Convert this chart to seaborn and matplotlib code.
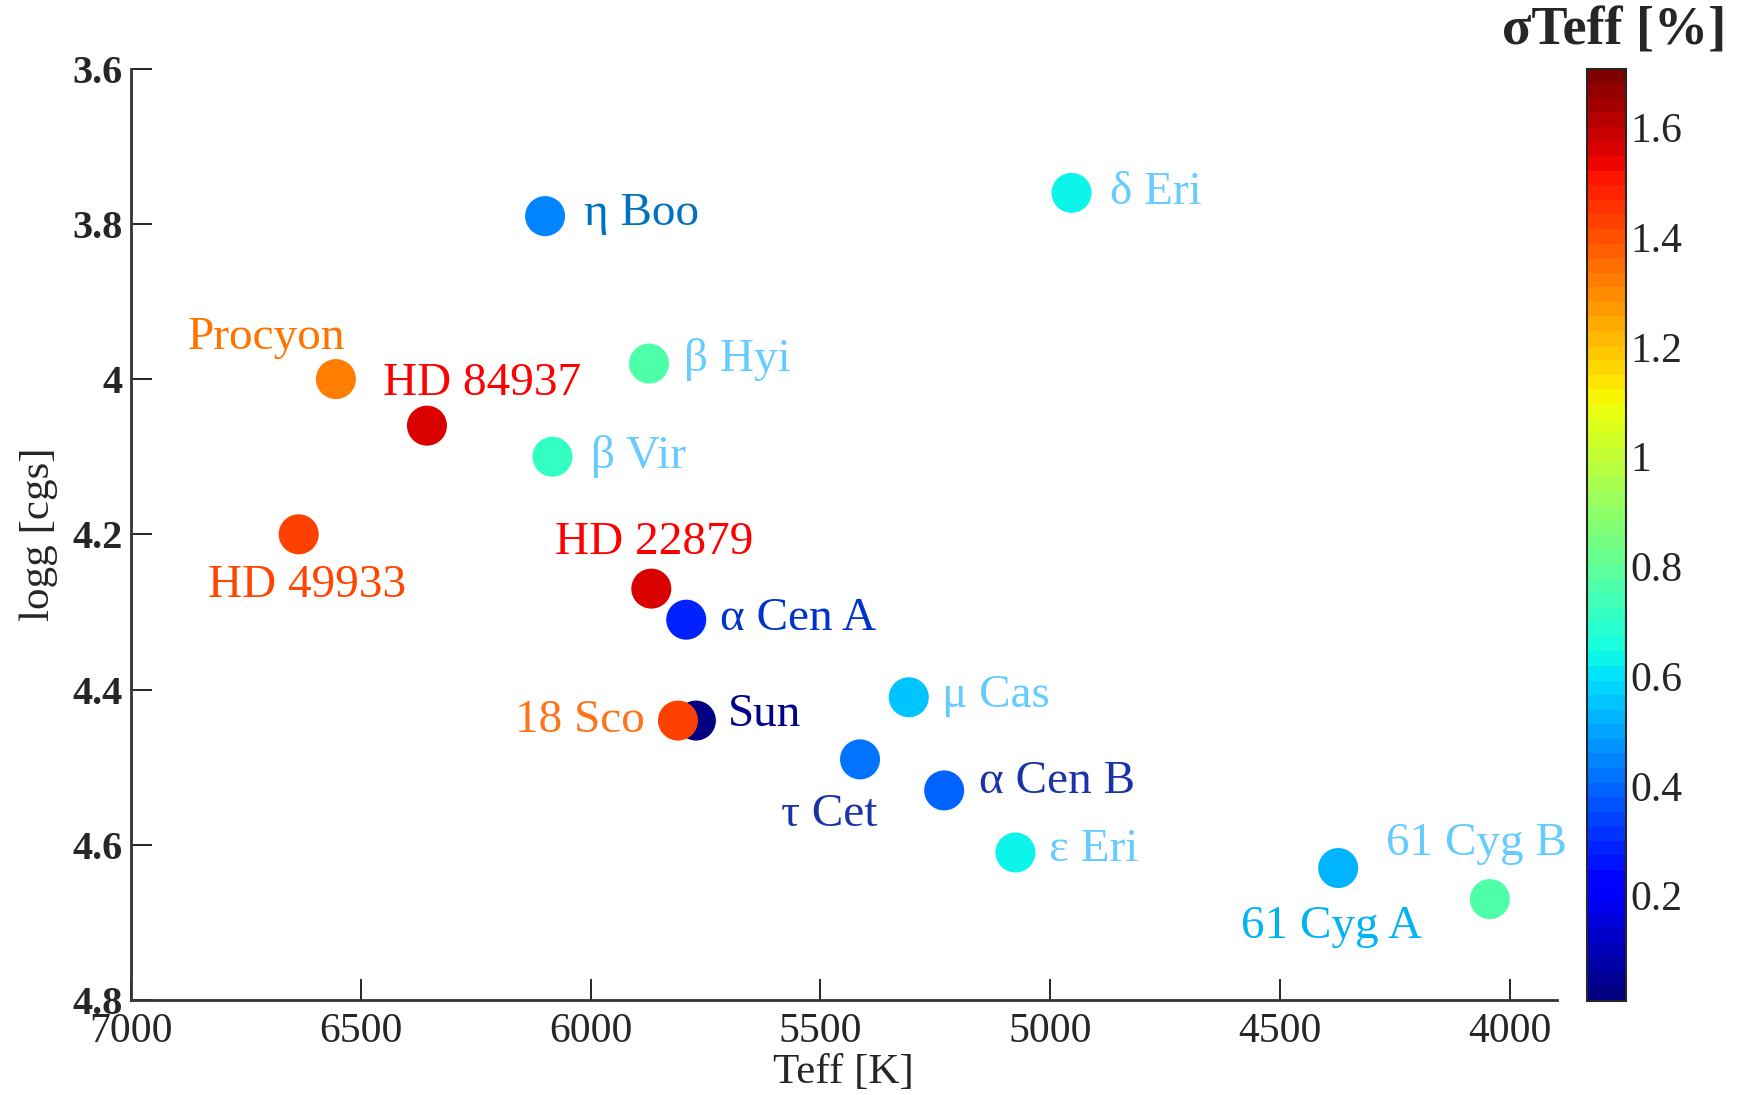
import numpy as np
import pandas as pd
import matplotlib
matplotlib.use("Agg")
import matplotlib.pyplot as plt
import seaborn as sns

# ---- data ----
stars = ["η Boo", "δ Eri", "Procyon", "β Hyi", "HD 84937", "β Vir", "HD 49933",
         "HD 22879", "α Cen A", "μ Cas", "Sun", "18 Sco", "τ Cet", "α Cen B",
         "ε Eri", "61 Cyg A", "61 Cyg B"]
teff = [6099, 4954, 6554, 5873, 6356, 6083, 6635,
        5868, 5792, 5308, 5771, 5810, 5414, 5231,
        5076, 4374, 4044]
logg = [3.79, 3.76, 4.00, 3.98, 4.06, 4.10, 4.20,
        4.27, 4.31, 4.41, 4.44, 4.44, 4.49, 4.53,
        4.61, 4.63, 4.67]
sigma_teff = [0.45, 0.62, 1.33, 0.77, 1.56, 0.70, 1.43,
              1.56, 0.28, 0.54, 0.03, 1.43, 0.42, 0.39,
              0.62, 0.52, 0.77]
xticks = [7000, 6500, 6000, 5500, 5000, 4500, 4000]
yticks = [3.6, 3.8, 4.0, 4.2, 4.4, 4.6, 4.8]
ytick_labels = ["3.6", "3.8", "4", "4.2", "4.4", "4.6", "4.8"]
cbar_ticks = [0.2, 0.4, 0.6, 0.8, 1.0, 1.2, 1.4, 1.6]
cbar_tick_labels = ["0.2", "0.4", "0.6", "0.8", "1", "1.2", "1.4", "1.6"]

# ---- label styles (offset in points, alignment, colour) ----
light = (0.40, 0.80, 1.00)
label_style = {
    "η Boo":   ((28, 2), "left", (0.0, 0.45, 0.75)),
    "δ Eri":   ((28, 0), "left", light),
    "Procyon": ((-50, 30), "center", (1.0, 0.45, 0.0)),
    "β Hyi":   ((25, 3), "left", light),
    "HD 84937": ((40, 30), "center", (1.0, 0.0, 0.0)),
    "β Vir":   ((28, 0), "left", light),
    "HD 49933": ((6, -37), "center", (1.0, 0.27, 0.0)),
    "HD 22879": ((2, 33), "center", (1.0, 0.0, 0.0)),
    "α Cen A": ((24, 1), "left", (0.0, 0.2, 0.8)),
    "μ Cas":   ((24, 1), "left", light),
    "Sun":     ((23, 4), "left", (0.0, 0.0, 0.55)),
    "18 Sco":  ((-24, 0), "right", (1.0, 0.45, 0.1)),
    "τ Cet":   ((-22, -40), "center", (0.1, 0.2, 0.65)),
    "α Cen B": ((25, 6), "left", (0.1, 0.2, 0.65)),
    "ε Eri":   ((24, 2), "left", light),
    "61 Cyg B": ((-10, 40), "center", light),
    "61 Cyg A": ((-5, -42), "center", (0.0, 0.7, 0.95)),
}

df = pd.DataFrame({"star": stars, "Teff": teff, "logg": logg, "sigma": sigma_teff})

sns.set_style("white")
plt.rcParams["font.family"] = ["Liberation Serif", "DejaVu Serif"]

vmin, vmax = 0.008, 1.707
cmap = plt.get_cmap("jet", 64)
norm = matplotlib.colors.Normalize(vmin=vmin, vmax=vmax)

fig = plt.figure(figsize=(17.38, 10.95), dpi=100)
ax = fig.add_axes([0.0753, 0.0868, 0.8203, 0.8505])

sns.scatterplot(data=df, x="Teff", y="logg", hue="sigma", palette=cmap,
                hue_norm=norm, s=830, linewidth=0, legend=False, ax=ax, zorder=3)

for name, t, g in zip(stars, teff, logg):
    (dx, dy), ha, col = label_style[name]
    ax.annotate(name, (t, g), xytext=(dx, dy), textcoords="offset points",
                ha=ha, va="center", fontsize=34, color=col, zorder=4)

ax.set_xlim(7000, 3899)
ax.set_ylim(4.8, 3.6)
ax.set_xticks(xticks)
ax.set_xticklabels([str(v) for v in xticks], fontsize=30)
ax.set_yticks(yticks)
ax.set_yticklabels(ytick_labels, fontsize=29, fontweight="bold")
ax.tick_params(axis="both", direction="in", length=15, width=1.2, color="black")
ax.tick_params(axis="x", pad=9, bottom=True)
ax.tick_params(axis="y", pad=6, left=True)
for side in ["top", "right"]:
    ax.spines[side].set_visible(False)
for side in ["left", "bottom"]:
    ax.spines[side].set_linewidth(2)
    ax.spines[side].set_color("#333333")
ax.set_xlabel("Teff [K]", fontsize=31, labelpad=2)
ax.set_ylabel("logg [cgs]", fontsize=31, labelpad=10)

cax = fig.add_axes([0.9134, 0.0858, 0.0223, 0.8514])
sm = matplotlib.cm.ScalarMappable(norm=norm, cmap=cmap)
cbar = fig.colorbar(sm, cax=cax, ticks=cbar_ticks)
cbar.ax.set_yticklabels(cbar_tick_labels, fontsize=30)
cbar.ax.tick_params(direction="in", length=12, left=True, right=True, pad=3, width=1.2)
cbar.outline.set_linewidth(1.5)
fig.text(0.993, 0.971, "σTeff [%]", ha="right", va="center", fontsize=39,
         fontweight="bold")

fig.savefig("out.png", dpi=100, facecolor="white")
